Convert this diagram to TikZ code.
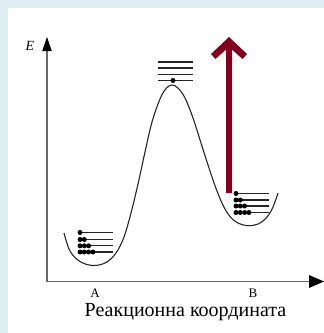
\documentclass[tikz,border=0pt]{standalone}
\usepackage{fontspec}
\setmainfont{Liberation Serif}
\definecolor{bgblue}{RGB}{222,238,243}
\definecolor{axisgray}{RGB}{105,105,105}
\definecolor{arrowred}{RGB}{128,0,30}
\begin{document}
\begin{tikzpicture}[x=1pt,y=-1pt,
  level/.style={line width=1.3pt,black!85},
  pdot/.style={fill=black,circle,inner sep=0pt,minimum size=5pt},
  axisline/.style={line width=1.8pt,axisgray},
  curve/.style={line width=1.1pt,black!85},
  lbl/.style={inner sep=0pt,font=\fontsize{13}{13}\selectfont}]
\useasboundingbox (0,0) rectangle (324,333);
\fill[bgblue] (0,0) rectangle (324,333);
\fill[white] (8,8) rectangle (324,333);
% axes
\coordinate (O) at (47,281.5);
\coordinate (Ytop) at (47,50);
\coordinate (Xend) at (311,281.5);
\draw[axisline] (O) -- (Ytop);
\draw[axisline] (O) -- (Xend);
\fill[black] (47,37) -- (51.8,51) -- (42.2,51) -- cycle;
\fill[black] (324,281.5) -- (309,275) -- (309,288) -- cycle;
\node[inner sep=0pt,font=\itshape\fontsize{14}{14}\selectfont] (E) at (30,46) {E};
% curve
\draw[curve] plot[smooth,tension=0.6] coordinates {
 (64,233) (70,251) (80,261.5) (93,265.5) (106,262.5) (116,253) (124,237)
 (131,213) (138,184) (145,152) (152,122) (160,99) (166,88.5) (172,85)
 (178,88) (185,98) (193,118) (201,143) (209,168) (217,191) (225,209)
 (234,220.5) (246,225.5) (258,224) (267,217) (273,207) (278,193)};
% left levels
\foreach \y in {232.5,239.5,245.8,252} \draw[level] (80,\y) -- (113,\y);
\foreach \r/\y in {0/232.5,1/239.5,2/245.8,3/252}
  \foreach \i in {0,...,\r} \node[pdot] at ({80+4.3*\i},\y) {};
% right levels
\foreach \y in {193.5,200,206,212.5} \draw[level] (236,\y) -- (269,\y);
\foreach \r/\y in {0/193.5,1/200,2/206,3/212.5}
  \foreach \i in {0,...,\r} \node[pdot] at ({236+4.3*\i},\y) {};
% top levels
\foreach \y in {62,68,74.5,80.5} \draw[level] (158,\y) -- (193,\y);
\node[pdot] (td) at (173,80.5) {};
% red arrow
\fill[arrowred] (229,37) -- (247,54) -- (242.5,59) -- (232,49.5) -- (232,193)
  -- (226,193) -- (226,49.5) -- (215.5,59) -- (211,54) -- cycle;
% labels
\node[lbl] (A) at (95,293) {A};
\node[lbl] (B) at (253,293) {B};
\node[inner sep=0pt,anchor=base,font=\fontsize{20}{20}\selectfont] (title) at (185.5,316) {Реакционна координата};
\end{tikzpicture}
\end{document}
